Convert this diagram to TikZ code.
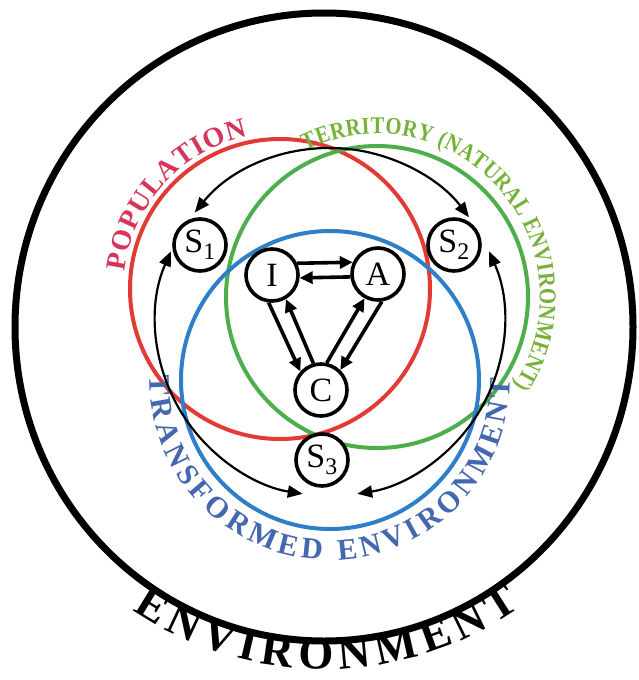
\documentclass[tikz,border=0pt]{standalone}
\usepackage{fontspec}
\setmainfont{Liberation Serif}
\newfontfamily\narrowserif{Liberation Serif}[FakeStretch=0.86]
\usetikzlibrary{arrows.meta,decorations.text}

\definecolor{popred}{HTML}{E23B36}
\definecolor{poptext}{HTML}{D6365C}
\definecolor{terrgreen}{HTML}{4DAE4A}
\definecolor{terrtext}{HTML}{76B23A}
\definecolor{transblue}{HTML}{2E7FC6}
\definecolor{transtext}{HTML}{4468B0}

\newcommand\arcfont[1]{\fontsize{#1}{#1}\selectfont\bfseries}

\begin{document}
\begin{tikzpicture}[x=1pt,y=1pt,
  sys/.style={draw, circle, line width=3.6pt, fill=white, minimum size=52pt, inner sep=0pt, font=\fontsize{34}{34}\selectfont},
  link/.style={line width=3.6pt, -{Triangle[length=13pt,width=12pt]}},
  orbit/.style={line width=2.2pt, {Triangle[length=15pt,width=12pt]}-{Triangle[length=15pt,width=12pt]}},
  ring/.style={line width=4pt}]
\useasboundingbox (0,0) rectangle (638,-680);

\coordinate (envc) at (324,-327);
\coordinate (redc) at (280,-289);
\coordinate (greenc) at (377,-297);
\coordinate (bluec) at (330,-380);
\coordinate (hub) at (330,-322);

% environment
\draw[line width=7pt] (envc) ellipse[x radius=309, y radius=314];
\path[decorate, decoration={text along path, text align={fit to path},
  text={|\arcfont{45}|ENVIRONMENT}}]
  ([shift={(236:342)}]envc) arc[start angle=236, end angle=305, radius=342];

% the three spheres
\draw[ring, popred] (redc) circle[radius=150];
\draw[ring, terrgreen] (greenc) circle[radius=151];
\draw[ring, transblue] (bluec) circle[radius=149];

\path[decorate, decoration={text along path, text align={fit to path}, text color=poptext,
  text={|\arcfont{28}|POPULATION}}]
  ([shift={(173.4:156)}]redc) arc[start angle=173.4, end angle=102, radius=156];
\path[decorate, decoration={text along path, text align={fit to path}, text color=terrtext,
  text={|\narrowserif\arcfont{24}|TERRITORY (NATURAL ENVIRONMENT)}}]
  ([shift={(116:163)}]greenc) arc[start angle=116, end angle=-33, radius=163];
\path[decorate, decoration={text along path, text align={fit to path}, text color=transtext,
  text={|\arcfont{30}|TRANSFORMED ENVIRONMENT}}]
  ([shift={(178.5:180)}]bluec) arc[start angle=178.5, end angle=360.5, radius=180];

% loops between the S nodes
\draw[orbit] ([shift={(141:174)}]hub) arc[start angle=141, end angle=37, radius=174];
\draw[orbit] ([shift={(156:174)}]hub) arc[start angle=156, end angle=261, radius=174];
\draw[orbit] ([shift={(24:174)}]hub) arc[start angle=24, end angle=-81, radius=174];

\node[sys] (s1) at (200,-245) {S\textsubscript{1}};
\node[sys] (s2) at (454,-245) {S\textsubscript{2}};
\node[sys] (i) at (272,-275) {I};
\node[sys] (a) at (378,-274) {A};
\node[sys] (c) at (321,-390) {C};
\node[sys] (s3) at (322,-460) {S\textsubscript{3}};

\draw[link] (i.25) -- (a.155);
\draw[link] (a.186) -- (i.-6);
\draw[link] (i.-97) -- (c.138);
\draw[link] (c.106) -- (i.-60);
\draw[link] (c.78) -- (a.-119);
\draw[link] (a.-82) -- (c.46);
\end{tikzpicture}
\end{document}
